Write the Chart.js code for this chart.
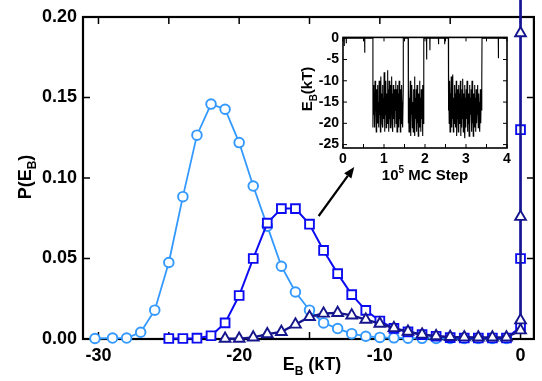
<!DOCTYPE html>
<html>
<head>
<meta charset="utf-8">
<script src="https://cdn.jsdelivr.net/npm/chart.js@4.4.0/dist/chart.umd.min.js"></script>
<style>
  body { margin: 0; background: #fff; }
  #wrap { position: relative; width: 542px; height: 381px; }
  #main { position: absolute; left: 0; top: 0; }
  #inset { position: absolute; left: 290px; top: 25px; }
</style>
</head>
<body>
<div id="wrap">
  <canvas id="main" width="542" height="381"></canvas>
  <canvas id="inset" width="225" height="170"></canvas>
</div>
<script>
'use strict';

// ---- main panel: P(E_B) ----
var circleE = [-30.25, -29, -28, -27, -26, -25, -24, -23, -22, -21, -20, -19, -18, -17, -16,
               -15, -14, -13, -12, -11, -10, -9, -8, -7, -6, -5, -4, -3, -2, -1];
var circleP = [0.0003, 0.0006, 0.0006, 0.0042, 0.0179, 0.0475, 0.0884, 0.1266, 0.1459, 0.1427,
               0.122, 0.095, 0.0701, 0.0452, 0.0292, 0.0179, 0.0100, 0.0065, 0.0033, 0.0017,
               0.0010, 0.0007, 0.0005, 0.0004, 0.0003, 0.0003, 0.0003, 0.0003, 0.0003, 0.0003];

var squareE = [-25, -24, -23, -22, -21, -20, -19, -18, -17, -16, -15, -14, -13, -12, -11,
               -10, -9, -8, -7, -6, -5, -4, -3, -2, -1, 0, 0, 0, 0];
var squareP = [0.0003, 0.0003, 0.0005, 0.002, 0.010, 0.027, 0.050, 0.072, 0.081, 0.081,
               0.0713, 0.055, 0.0406, 0.0276, 0.0178, 0.0112, 0.0066, 0.0044, 0.0027, 0.0017,
               0.0009, 0.0006, 0.0006, 0.0006, 0.0006, 0.0075, 0.050, 0.130, 0.6];

var triangleE = [-21, -20, -19, -18, -17, -16, -15, -14, -13, -12, -11, -10, -9, -8, -7,
                 -6, -5, -4, -3, -2, -1, 0, 0, 0, 0, 0];
var triangleP = [0.0002, 0.0002, 0.001, 0.003, 0.0044, 0.009, 0.0137, 0.0158, 0.0162, 0.0147,
                 0.012, 0.0095, 0.0068, 0.0046, 0.0028, 0.0018, 0.0013, 0.0011, 0.001, 0.001,
                 0.001, 0.0054, 0.0116, 0.0759, 0.190, 0.6];

var xTickLabels = [-30, -20, -10, 0];
var xTickMarks = [-30, -25, -20, -15, -10, -5, 0];
var yTickLabels = [0, 0.05, 0.10, 0.15, 0.20];

// arrow pointing from the square curve to the inset (E_B, P)
var arrowFrom = [-14.35, 0.0764];
var arrowTo = [-11.82, 0.1068];

// ---- inset: E_B along the MC trajectory ----
var runStart = [0.73, 1.59, 2.57];
var runEnd = [1.47, 1.97, 3.39];
var run1 = [-21, -11, -18, -13, -21, -10, -17, -14, -22, -12, -19, -11, -20, -15, -21, -10,
            -18, -12, -22, -9, -17, -13, -20, -11, -21, -14, -19, -8, -22, -12, -18, -10,
            -21, -13, -20, -7.5, -17, -12, -22, -10, -19, -14, -21, -11, -18, -9, -20, -13,
            -22, -11, -19, -12, -21, -14, -17, -10, -20, -12, -22, -11, -18, -13, -21, -10,
            -19, -14, -22, -12, -20, -11, -18, -15, -21, -12];
var run2 = [-20, -12, -22, -14, -19, -10, -23, -13, -18, -11, -21, -15, -22, -12, -20, -9,
            -23, -14, -19, -12, -22, -11, -20, -15, -23, -13, -18, -10, -21, -14, -22, -12,
            -19, -13, -23, -11, -20, -16];
var run3 = [-17, -8, -20, -10, -22, -13, -18, -9, -21, -12, -19, -8.5, -22, -14, -20, -11,
            -18, -13, -21, -10, -23, -12, -19, -15, -22, -11, -20, -13, -18, -10, -23, -14,
            -21, -12, -19, -9.5, -22, -13, -20, -11, -23.5, -14, -21, -12, -19, -10, -22, -15,
            -20, -13, -23, -11, -21, -14, -18, -12, -22, -10, -20, -15, -23, -13, -19, -11,
            -21, -14, -22, -12, -20, -16, -18, -11, -21, -13, -19, -15, -22, -12, -20, -14,
            -17, -10];
// short dips while unbound (E_B = 0)
var dipStep = [0.03, 0.08, 0.53, 2.04, 2.12, 2.33, 2.48, 3.79];
var dipEnergy = [-1.8, -1.2, -3.4, -5, -2.8, -1.4, -1.4, -4.7];

var insetXTickLabels = [0, 1, 2, 3, 4];
var insetXTickMarks = [0, 0.5, 1, 1.5, 2, 2.5, 3, 3.5, 4];
var insetYTickLabels = [0, -5, -10, -15, -20, -25];

var FAMILY = '"Liberation Sans", Arial, Helvetica, sans-serif';

function pairs(xs, ys) {
    return xs.map(function (x, i) { return { x: x, y: ys[i] }; });
}

function buildTrace() {
    var pts = [{ x: 0, y: 0 }, { x: 4, y: 0 }];
    dipStep.forEach(function (t, i) {
        pts.push({ x: t - 0.003, y: 0 }, { x: t, y: dipEnergy[i] }, { x: t + 0.003, y: 0 });
    });
    [run1, run2, run3].forEach(function (run, r) {
        var a = runStart[r], b = runEnd[r];
        pts.push({ x: a - 0.0005, y: 0 });
        run.forEach(function (v, k) {
            pts.push({ x: a + (b - a) * k / (run.length - 1), y: v });
        });
        pts.push({ x: b + 0.0005, y: 0 });
    });
    pts.sort(function (p, q) { return p.x - q.x; });
    return pts;
}

function drawRich(ctx, parts, x, y, size, rotate) {
    var small = Math.round(size * 0.68);
    function fontFor(k) { return 'bold ' + (k ? small : size) + 'px ' + FAMILY; }
    var total = 0;
    parts.forEach(function (p) { ctx.font = fontFor(p[1]); total += ctx.measureText(p[0]).width; });
    ctx.save();
    ctx.translate(x, y);
    if (rotate) ctx.rotate(-Math.PI / 2);
    ctx.fillStyle = '#000';
    ctx.textBaseline = 'alphabetic';
    var cx = -total / 2;
    parts.forEach(function (p) {
        ctx.font = fontFor(p[1]);
        var dy = p[1] === 1 ? size * 0.3 : (p[1] === 2 ? -size * 0.45 : 0);
        ctx.fillText(p[0], cx, dy);
        cx += ctx.measureText(p[0]).width;
    });
    ctx.restore();
}

// box around the plot area with inward ticks on all four sides
var frameTicks = {
    id: 'frameTicks',
    beforeDraw: function (chart, args, opts) {
        if (!opts.fill) return;
        var a = chart.chartArea, ctx = chart.ctx;
        ctx.save();
        ctx.fillStyle = opts.fill;
        ctx.fillRect(a.left, a.top, a.right - a.left, a.bottom - a.top);
        ctx.restore();
    },
    beforeDatasetsDraw: function (chart, args, opts) {
        var a = chart.chartArea, ctx = chart.ctx;
        var sx = chart.scales.x, sy = chart.scales.y;
        ctx.save();
        ctx.strokeStyle = '#000';
        ctx.lineWidth = opts.tickWidth;
        ctx.beginPath();
        opts.xMarks.forEach(function (v) {
            var px = sx.getPixelForValue(v);
            ctx.moveTo(px, a.bottom); ctx.lineTo(px, a.bottom - opts.len);
            ctx.moveTo(px, a.top); ctx.lineTo(px, a.top + opts.len);
        });
        opts.yMarks.forEach(function (v) {
            var py = sy.getPixelForValue(v);
            ctx.moveTo(a.left, py); ctx.lineTo(a.left + opts.len, py);
            ctx.moveTo(a.right, py); ctx.lineTo(a.right - opts.len, py);
        });
        ctx.stroke();
        ctx.lineWidth = opts.frameWidth;
        ctx.strokeRect(a.left, a.top, a.right - a.left, a.bottom - a.top);
        ctx.restore();
    }
};

var axisTitles = {
    id: 'axisTitles',
    afterDraw: function (chart, args, opts) {
        opts.items.forEach(function (t) {
            drawRich(chart.ctx, t.parts, t.x, t.y, t.size, t.rotate);
        });
    }
};

var arrowPlugin = {
    id: 'arrow',
    afterDatasetsDraw: function (chart, args, opts) {
        var sx = chart.scales.x, sy = chart.scales.y, ctx = chart.ctx;
        var x0 = sx.getPixelForValue(opts.from[0]), y0 = sy.getPixelForValue(opts.from[1]);
        var x1 = sx.getPixelForValue(opts.to[0]), y1 = sy.getPixelForValue(opts.to[1]);
        var ang = Math.atan2(y1 - y0, x1 - x0);
        var head = 11, half = 4.5;
        var bx = x1 - Math.cos(ang) * head, by = y1 - Math.sin(ang) * head;
        ctx.save();
        ctx.strokeStyle = '#000';
        ctx.fillStyle = '#000';
        ctx.lineWidth = 2.2;
        ctx.beginPath();
        ctx.moveTo(x0, y0);
        ctx.lineTo(bx, by);
        ctx.stroke();
        ctx.beginPath();
        ctx.moveTo(x1, y1);
        ctx.lineTo(bx - Math.sin(ang) * half, by + Math.cos(ang) * half);
        ctx.lineTo(bx + Math.sin(ang) * half, by - Math.cos(ang) * half);
        ctx.closePath();
        ctx.fill();
        ctx.restore();
    }
};

function series(xs, ys, color, style, radius, width) {
    return {
        data: pairs(xs, ys),
        showLine: true,
        clip: false,
        borderColor: color,
        borderWidth: width,
        pointStyle: style,
        pointRadius: radius,
        pointBorderWidth: 1.9,
        pointBorderColor: color,
        pointBackgroundColor: '#fff',
        tension: 0
    };
}

var mainChart = new Chart(document.getElementById('main'), {
    type: 'scatter',
    data: {
        datasets: [
            series(triangleE, triangleP, '#16168c', 'triangle', 6.2, 2.4),
            series(squareE, squareP, '#0c0cf2', 'rect', 6.2, 2),
            series(circleE, circleP, '#3399ff', 'circle', 4.8, 1.8)
        ]
    },
    options: {
        responsive: false,
        animation: false,
        devicePixelRatio: 1,
        layout: { padding: { top: 17, right: 5, left: 0, bottom: 0 } },
        plugins: {
            legend: { display: false },
            tooltip: { enabled: false },
            frameTicks: { xMarks: xTickMarks, yMarks: yTickLabels, len: 7, tickWidth: 1.5, frameWidth: 2.2 },
            axisTitles: {
                items: [
                    { parts: [['E', 0], ['B', 1], [' (kT)', 0]], x: 312, y: 370, size: 18, rotate: false },
                    { parts: [['P(E', 0], ['B', 1], [')', 0]], x: 31, y: 177, size: 18, rotate: true }
                ]
            },
            arrow: { from: arrowFrom, to: arrowTo }
        },
        scales: {
            x: {
                type: 'linear',
                min: -31.1,
                max: 0.95,
                grid: { display: false, drawTicks: false },
                border: { display: false },
                afterBuildTicks: function (s) { s.ticks = xTickLabels.map(function (v) { return { value: v }; }); },
                afterFit: function (s) { s.height = 42; },
                ticks: {
                    color: '#000',
                    padding: 6,
                    maxRotation: 0,
                    font: { family: FAMILY, size: 18, weight: 'bold' },
                    callback: function (v) { return String(v); }
                }
            },
            y: {
                type: 'linear',
                min: 0,
                max: 0.2,
                grid: { display: false, drawTicks: false },
                border: { display: false },
                afterBuildTicks: function (s) { s.ticks = yTickLabels.map(function (v) { return { value: v }; }); },
                afterFit: function (s) { s.width = 83; },
                ticks: {
                    color: '#000',
                    padding: 6,
                    font: { family: FAMILY, size: 18, weight: 'bold' },
                    callback: function (v) { return v.toFixed(2); }
                }
            }
        }
    },
    plugins: [frameTicks, arrowPlugin, axisTitles]
});

var insetChart = new Chart(document.getElementById('inset'), {
    type: 'scatter',
    data: {
        datasets: [{
            data: buildTrace(),
            showLine: true,
            borderColor: '#000',
            borderWidth: 1.1,
            pointRadius: 0,
            tension: 0
        }]
    },
    options: {
        responsive: false,
        animation: false,
        devicePixelRatio: 1,
        layout: { padding: { top: 10, right: 8, left: 0, bottom: 0 } },
        plugins: {
            legend: { display: false },
            tooltip: { enabled: false },
            frameTicks: { xMarks: insetXTickMarks, yMarks: insetYTickLabels, len: 4, tickWidth: 1, frameWidth: 1.6, fill: '#fff' },
            axisTitles: {
                items: [
                    { parts: [['10', 0], ['5', 2], [' MC Step', 0]], x: 135, y: 155, size: 15, rotate: false },
                    { parts: [['E', 0], ['B', 1], ['(kT)', 0]], x: 22, y: 64, size: 15, rotate: true }
                ]
            }
        },
        scales: {
            x: {
                type: 'linear',
                min: 0,
                max: 4,
                grid: { display: false, drawTicks: false },
                border: { display: false },
                afterBuildTicks: function (s) { s.ticks = insetXTickLabels.map(function (v) { return { value: v }; }); },
                afterFit: function (s) { s.height = 47; },
                ticks: {
                    color: '#000',
                    padding: 3,
                    maxRotation: 0,
                    font: { family: FAMILY, size: 14, weight: 'bold' },
                    callback: function (v) { return String(v); }
                }
            },
            y: {
                type: 'linear',
                min: -25.8,
                max: 0.2,
                grid: { display: false, drawTicks: false },
                border: { display: false },
                afterBuildTicks: function (s) { s.ticks = insetYTickLabels.map(function (v) { return { value: v }; }); },
                afterFit: function (s) { s.width = 53; },
                ticks: {
                    color: '#000',
                    padding: 4,
                    font: { family: FAMILY, size: 14, weight: 'bold' },
                    callback: function (v) { return String(v); }
                }
            }
        }
    },
    plugins: [frameTicks, axisTitles]
});
</script>
</body>
</html>
